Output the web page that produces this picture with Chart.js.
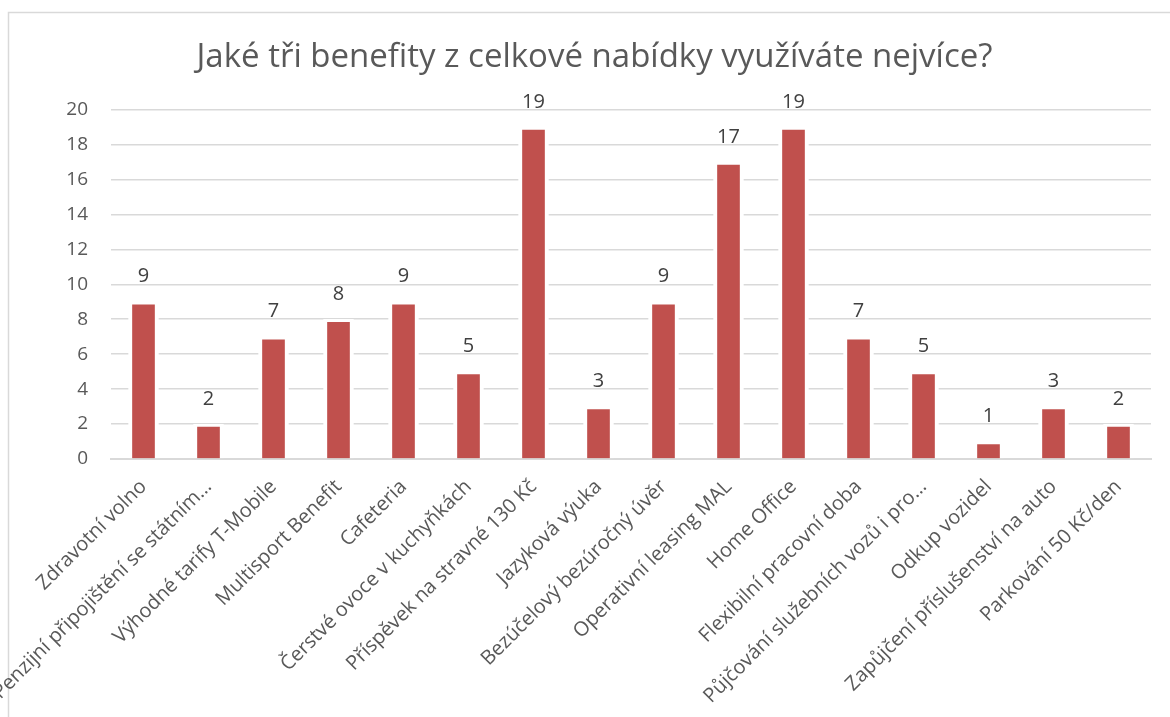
<!DOCTYPE html>
<html>
<head>
<meta charset="utf-8">
<script src="https://cdn.jsdelivr.net/npm/chart.js@4/dist/chart.umd.min.js"></script>
<style>
  html, body { margin: 0; padding: 0; background: #fff; }
  #wrap { width: 1170px; height: 717px; position: relative; }
</style>
</head>
<body>
<div id="wrap"><canvas id="chart"></canvas></div>
<script>
const categories = [
  'Zdravotní volno',
  'Penzijní připojištění se státním…',
  'Výhodné tarify T-Mobile',
  'Multisport Benefit',
  'Cafeteria',
  'Čerstvé ovoce v kuchyňkách',
  'Příspěvek na stravné 130 Kč',
  'Jazyková výuka',
  'Bezúčelový bezúročný úvěr',
  'Operativní leasing MAL',
  'Home Office',
  'Flexibilní pracovní doba',
  'Půjčování služebních vozů i pro…',
  'Odkup vozidel',
  'Zapůjčení příslušenství na auto',
  'Parkování 50 Kč/den'
];
const counts = [9, 2, 7, 8, 9, 5, 19, 3, 9, 17, 19, 7, 5, 1, 3, 2];
const yTicks = [0, 2, 4, 6, 8, 10, 12, 14, 16, 18, 20];
const chartTitle = 'Jaké tři benefity z celkové nabídky využíváte nejvíce?';

Chart.defaults.font.family = "'Open Sans', sans-serif";
Chart.defaults.color = '#595959';

// light frame like the spreadsheet chart border
const frame = {
  id: 'frame',
  beforeDraw(chart) {
    const ctx = chart.ctx;
    ctx.save();
    ctx.fillStyle = '#fff';
    ctx.fillRect(0, 0, chart.width, chart.height);
    ctx.strokeStyle = '#d9d9d9';
    ctx.lineWidth = 1.5;
    ctx.beginPath();
    ctx.moveTo(8.5, chart.height);
    ctx.lineTo(8.5, 12.5);
    ctx.lineTo(chart.width, 12.5);
    ctx.stroke();
    ctx.restore();
  }
};

// values above bars
const barValues = {
  id: 'barValues',
  afterDatasetsDraw(chart) {
    const ctx = chart.ctx;
    const meta = chart.getDatasetMeta(0);
    ctx.save();
    ctx.font = "20px 'Open Sans', sans-serif";
    ctx.fillStyle = '#404040';
    ctx.textAlign = 'center';
    ctx.textBaseline = 'middle';
    meta.data.forEach((bar, i) => {
      ctx.fillText(String(counts[i]), bar.x, bar.y - 25);
    });
    ctx.restore();
  }
};

new Chart(document.getElementById('chart'), {
  type: 'bar',
  data: {
    labels: categories,
    datasets: [{
      label: 'count',
      data: counts,
      backgroundColor: '#c0504d',
      borderColor: '#ffffff',
      borderWidth: { left: 4, right: 4, top: 3, bottom: 0 },
      borderSkipped: false,
      barThickness: 30
    }]
  },
  options: {
    responsive: true,
    maintainAspectRatio: false,
    animation: false,
    layout: { padding: { left: 38, right: 19, top: 0, bottom: 0 } },
    plugins: {
      legend: { display: false },
      tooltip: { enabled: false },
      title: {
        display: true,
        text: chartTitle,
        color: '#595959',
        font: { size: 33, weight: 'normal' },
        padding: { top: 38, bottom: 32 }
      }
    },
    scales: {
      x: {
        grid: { display: false, drawTicks: false },
        border: { color: '#d9d9d9', width: 2 },
        ticks: {
          autoSkip: false,
          minRotation: 45,
          maxRotation: 45,
          padding: 16,
          color: '#595959',
          font: { size: 20 }
        },
        afterFit(scale) {
          scale.height = 258;
          scale.paddingLeft = 0;
          scale.paddingRight = 0;
        }
      },
      y: {
        min: 0,
        max: 20,
        afterBuildTicks(scale) {
          scale.ticks = yTicks.map(v => ({ value: v }));
        },
        grid: { color: '#d9d9d9', lineWidth: 1.5, drawTicks: false },
        border: { display: false },
        ticks: {
          padding: 23,
          color: '#595959',
          font: { size: 19 }
        },
        afterFit(scale) {
          scale.width = 73;
          scale.paddingTop = 0;
          scale.paddingBottom = 0;
        }
      }
    }
  },
  plugins: [frame, barValues]
});
</script>
</body>
</html>
